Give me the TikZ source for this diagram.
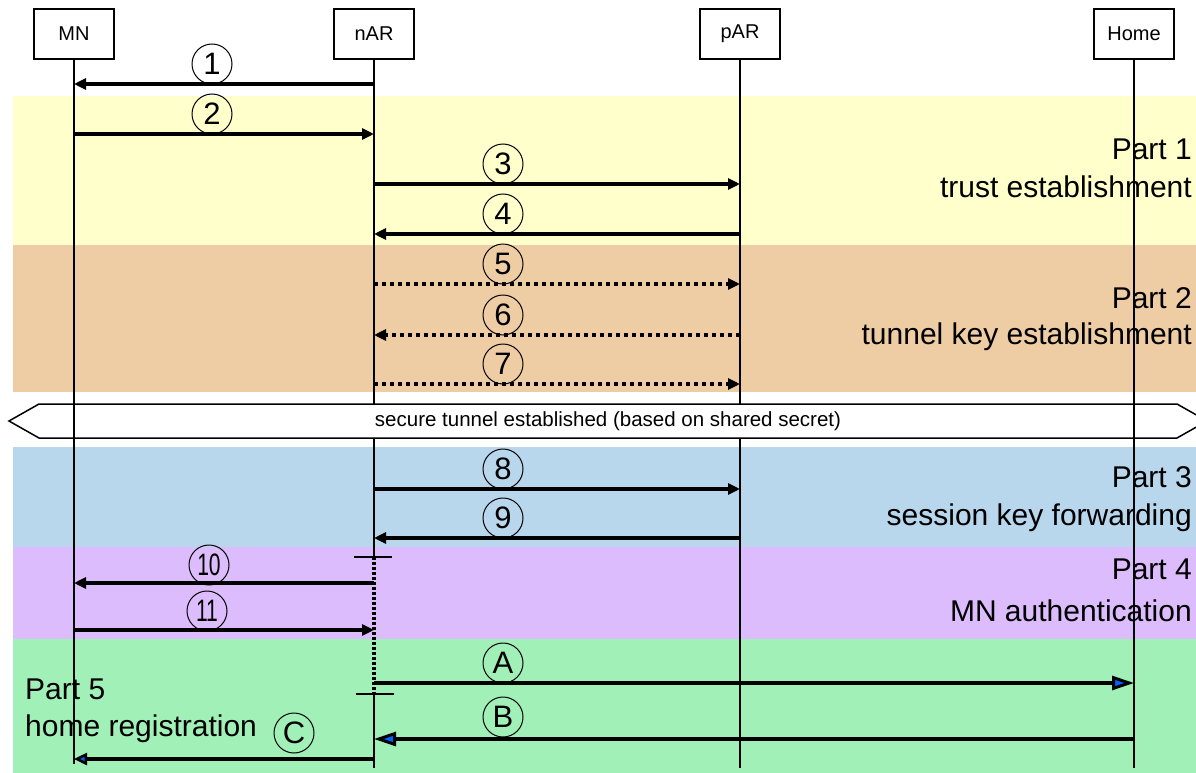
\documentclass[tikz,border=0pt]{standalone}
\usepackage{fontspec}
\setmainfont{Liberation Sans}
\usetikzlibrary{arrows.meta,calc}
\definecolor{bandA}{RGB}{255,255,204}
\definecolor{bandB}{RGB}{238,204,164}
\definecolor{bandC}{RGB}{184,214,236}
\definecolor{bandD}{RGB}{220,188,252}
\definecolor{bandE}{RGB}{160,240,184}
\definecolor{tipblue}{RGB}{0,100,255}
\tikzset{
  actor/.style={draw, line width=1.2pt, minimum width=80pt, minimum height=50pt, inner sep=0pt, fill=white, font=\fontsize{20}{24}\selectfont},
  life/.style={line width=1.6pt},
  msg/.style={line width=4pt, -{Triangle[length=12pt,width=11pt]}},
  dotmsg/.style={msg, dash pattern=on 4pt off 4pt},
  bigmsg/.style={line width=4pt, -{Triangle[length=22pt,width=14pt,fill=tipblue,line width=3pt]}},
  smallblue/.style={line width=4pt, -{Triangle[length=13pt,width=12pt,fill=tipblue,line width=2.5pt]}},
  num/.style={circle, draw, line width=1pt, minimum size=40pt, inner sep=0pt, font=\fontsize{31}{33}\selectfont},
  parttext/.style={inner sep=0pt, font=\fontsize{30}{36}\selectfont},
  tick/.style={line width=1.5pt},
  tunnel/.style={draw, line width=1.5pt, fill=white}
}
\begin{document}
\begin{tikzpicture}[x=1pt,y=-1pt]
\clip (0,0) rectangle (1196,773);
\fill[white] (0,0) rectangle (1196,773);
% bands
\fill[bandA] (13,96) rectangle (1196,245);
\fill[bandB] (13,245) rectangle (1196,392);
\fill[bandC] (13,447) rectangle (1196,547);
\fill[bandD] (13,547) rectangle (1196,639);
\fill[bandE] (13,639) rectangle (1196,773);

% actors
\node[actor] (MN) at (74,34) {MN};
\node[actor] (nAR) at (374,34) {nAR};
\node[actor] (pAR) at (740,34) {pAR};
\node[actor] (Home) at (1134,34) {Home};

% rows
\coordinate (tt) at (0,404);
\coordinate (tb) at (0,437);
\coordinate (d1) at (0,557);
\coordinate (d2) at (0,694);
\coordinate (bot) at (0,768);
\coordinate (botm) at (0,764);
\coordinate (r1) at (0,84);
\coordinate (r2) at (0,134);
\coordinate (r3) at (0,184);
\coordinate (r4) at (0,234);
\coordinate (r5) at (0,284);
\coordinate (r6) at (0,335);
\coordinate (r7) at (0,384);
\coordinate (r8) at (0,489);
\coordinate (r9) at (0,538);
\coordinate (r10) at (0,583);
\coordinate (r11) at (0,630);
\coordinate (rA) at (0,683);
\coordinate (rB) at (0,739);
\coordinate (rC) at (0,759);

% nAR and pAR lifelines (interrupted by tunnel)
\draw[life] (nAR.south) -- (nAR |- tt);
\draw[life] (nAR |- tb) -- (nAR |- d1);
\draw[line width=3.5pt, dash pattern=on 3pt off 2pt] (nAR |- d1) -- (nAR |- d2);
\draw[life] (nAR |- d2) -- (nAR |- bot);
\draw[life] (pAR.south) -- (pAR |- tt);
\draw[life] (pAR |- tb) -- (pAR |- bot);

% tunnel
\draw[tunnel] (9,421) -- (39,404) -- (1177,404) -- (1207,421) -- (1177,438) -- (39,438) -- cycle;
\node[inner sep=0pt, font=\fontsize{20.5}{24}\selectfont] (tun) at (608,421) {secure tunnel established (based on shared secret)};

% part texts
\node[parttext, anchor=base east] (p1a) at (1192,160) {Part 1};
\node[parttext, anchor=base east] (p1b) at (1192,197) {trust establishment};
\node[parttext, anchor=base east] (p2a) at (1192,308) {Part 2};
\node[parttext, anchor=base east] (p2b) at (1192,344) {tunnel key establishment};
\node[parttext, anchor=base east] (p3a) at (1192,487) {Part 3};
\node[parttext, anchor=base east] (p3b) at (1192,525) {session key forwarding};
\node[parttext, anchor=base east] (p4a) at (1192,579) {Part 4};
\node[parttext, anchor=base east] (p4b) at (1192,621) {MN authentication};
\node[parttext, anchor=base west] (p5a) at (25,699) {Part 5};
\node[parttext, anchor=base west] (p5b) at (25,736) {home registration};

% MN and Home lifelines
\draw[life] (MN.south) -- (MN |- botm);
\draw[life] (Home.south) -- (Home |- bot);

% ticks on nAR
\coordinate (t1a) at (354,557);
\coordinate (t1b) at (392,557);
\coordinate (t2a) at (356,694);
\coordinate (t2b) at (394,694);
\draw[tick] (t1a) -- (t1b);
\draw[tick] (t2a) -- (t2b);

% number circles
\node[num] (n1) at (212,64) {1};
\node[num] (n2) at (212,114) {2};
\node[num] (n3) at (503,164) {3};
\node[num] (n4) at (503,214) {4};
\node[num] (n5) at (503,264) {5};
\node[num] (n6) at (503,315) {6};
\node[num] (n7) at (503,364) {7};
\node[num] (n8) at (503,469) {8};
\node[num] (n9) at (503,518) {9};
\node[num] (n10) at (209,565) {\scalebox{0.68}[1]{10}};
\node[num] (n11) at (207,611) {\scalebox{0.68}[1]{11}};
\node[num] (nA) at (503,663) {A};
\node[num] (nB) at (503,717) {B};
\node[num] (nC) at (294,733) {C};

% messages
\draw[msg] (nAR |- r1) -- (MN |- r1);
\draw[msg] (MN |- r2) -- (nAR |- r2);
\draw[msg] (nAR |- r3) -- (pAR |- r3);
\draw[msg] (pAR |- r4) -- (nAR |- r4);
\draw[dotmsg] (nAR |- r5) -- (pAR |- r5);
\draw[dotmsg] (pAR |- r6) -- (nAR |- r6);
\draw[dotmsg] (nAR |- r7) -- (pAR |- r7);
\draw[msg] (nAR |- r8) -- (pAR |- r8);
\draw[msg] (pAR |- r9) -- (nAR |- r9);
\draw[msg] (nAR |- r10) -- (MN |- r10);
\draw[msg] (MN |- r11) -- (nAR |- r11);
\draw[bigmsg] (nAR |- rA) -- (Home |- rA);
\draw[bigmsg] (Home |- rB) -- (nAR |- rB);
\draw[smallblue] (nAR |- rC) -- (MN |- rC);
\end{tikzpicture}
\end{document}
